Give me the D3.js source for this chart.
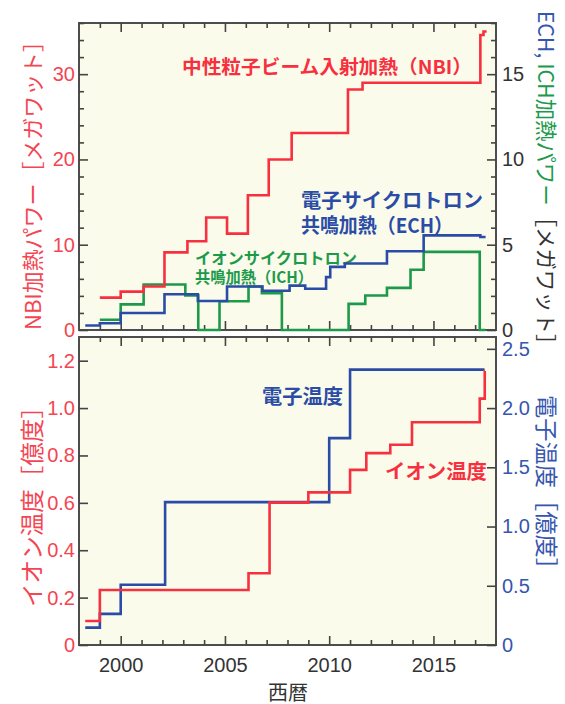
<!DOCTYPE html>
<html><head><meta charset="utf-8">
<script src="https://cdn.jsdelivr.net/npm/d3@7"></script>
<style>
body{margin:0;background:#fff}
svg{display:block}
</style>
</head><body>
<svg id="c" width="565" height="704"></svg>
<script>
// ---- data (step charts: value holds from each year until the next) ----
const nbiYears = [1999.0, 2000.0, 2001.1, 2002.1, 2003.2, 2004.1, 2005.1, 2006.1, 2007.1, 2008.2, 2010.9, 2011.6, 2017.25, 2017.4, 2017.55];
const nbiPower = [3.8, 4.5, 5.1, 9.1, 10.4, 13.2, 11.3, 15.8, 20.0, 23.1, 28.2, 29.0, 34.6, 35.0, 35.0];

const echYears = [1998.3, 1999.0, 2000.0, 2002.1, 2003.7, 2005.1, 2006.8, 2008.1, 2008.85, 2009.85, 2010.05, 2010.75, 2012.77, 2014.53, 2017.25, 2017.5];
const echPower = [0.26, 0.4, 1.0, 2.1, 1.7, 2.55, 2.3, 2.6, 2.42, 3.1, 3.7, 3.9, 4.62, 5.55, 5.45, 5.45];

const ichYears = [1999.0, 2000.0, 2001.1, 2003.1, 2003.72, 2004.74, 2006.13, 2006.77, 2007.73, 2010.93, 2011.73, 2012.77, 2013.9, 2014.53, 2017.22, 2017.5];
const ichPower = [0.6, 1.5, 2.67, 2.02, 0, 1.69, 2.55, 2.16, 0, 1.53, 2.02, 2.47, 3.53, 4.58, 0, 0];

const ionYears = [1998.3, 1999.0, 2006.13, 2007.14, 2009.0, 2011.0, 2011.78, 2012.93, 2013.97, 2017.22, 2017.46, 2017.47];
const ionTemp  = [0.101, 0.232, 0.303, 0.601, 0.644, 0.739, 0.81, 0.845, 0.94, 1.04, 1.156, 1.156];

const eleYears = [1998.3, 1999.0, 2000.0, 2002.13, 2010.0, 2011.0, 2017.45];
const eleTemp  = [0.147, 0.263, 0.508, 1.206, 1.746, 2.325, 2.325];

const xTickYears = [2000, 2005, 2010, 2015];
const nbiTicks = [0, 10, 20, 30];
const rfTicks = [0, 5, 10, 15];
const ionTicks = [0, 0.2, 0.4, 0.6, 0.8, 1.0, 1.2];
const eleTicks = [0, 0.5, 1.0, 1.5, 2.0, 2.5];

// ---- styling ----
const RED = "#f7303f", BLUE = "#2b4ca6", GREEN = "#1c9a4a", DARK = "#333";
const RED_T = "#f44552", BLUE_T = "#3656ae";
const LAT = '"Liberation Sans", Arial, sans-serif';
const JP = '"Noto Sans CJK JP", "Noto Sans", sans-serif';
const BG = "#fafbeb", FRAME = "#4d4d4d";

const svg = d3.select("#c");
const x = d3.scaleLinear().domain([1998, 2018]).range([79, 496]);
const yTopL = d3.scaleLinear().domain([0, 36]).range([330, 23]);
const yTopR = d3.scaleLinear().domain([0, 18]).range([330, 23]);
const yBotL = d3.scaleLinear().domain([0, 1.3]).range([645, 337]);
const yBotR = d3.scaleLinear().domain([0, 2.6]).range([645, 337]);

const allYears = d3.range(1999, 2018);
const minorYears = allYears.filter(d => d % 5 !== 0);
const majorYears = allYears.filter(d => d % 5 === 0);

function panel(yScale) {
  const [y1, y0] = yScale.range();
  svg.append("rect").attr("x", x.range()[0]).attr("y", y0)
    .attr("width", x.range()[1] - x.range()[0]).attr("height", y1 - y0)
    .attr("fill", BG);
}
function frame(yScale) {
  const [y1, y0] = yScale.range();
  svg.append("rect").attr("x", x.range()[0]).attr("y", y0)
    .attr("width", x.range()[1] - x.range()[0]).attr("height", y1 - y0)
    .attr("fill", "none").attr("stroke", FRAME).attr("stroke-width", 2);
}
function drawAxis(axis, tx, ty) {
  const g = svg.append("g").attr("transform", `translate(${tx},${ty})`).call(axis);
  g.select(".domain").remove();
  g.selectAll(".tick line").attr("stroke", "#444").attr("stroke-width", 1.6);
  return g;
}
function noLabels(g) { g.selectAll("text").remove(); return g; }

function yearTicks(yScale, withLabels) {
  const [y1, y0] = yScale.range();
  noLabels(drawAxis(d3.axisTop(x).tickValues(minorYears).tickSize(-5), 0, y0));
  noLabels(drawAxis(d3.axisTop(x).tickValues(majorYears).tickSize(-9), 0, y0));
  noLabels(drawAxis(d3.axisBottom(x).tickValues(minorYears).tickSize(-5), 0, y1));
  const g = drawAxis(d3.axisBottom(x).tickValues(majorYears).tickSize(-9)
    .tickFormat(d3.format("d")), 0, y1);
  if (!withLabels) noLabels(g);
  else {
    g.selectAll(".tick").filter(d => !xTickYears.includes(d)).select("text").remove();
    g.selectAll("text").attr("font-family", LAT).attr("font-size", 20).attr("fill", DARK)
      .attr("y", 0).attr("dy", "0").attr("dominant-baseline", "central")
      .attr("transform", "translate(0,20)");
  }
}

function step(xs, ys, yScale, color) {
  const pts = xs.map((d, i) => [d, ys[i]]);
  const line = d3.line().x(d => x(d[0])).y(d => yScale(d[1])).curve(d3.curveStepAfter);
  svg.append("path").datum(pts).attr("d", line).attr("fill", "none")
    .attr("stroke", color).attr("stroke-width", 2.6).attr("stroke-linejoin", "miter");
}

function fitText(sel, target) {
  const len = sel.node().getComputedTextLength();
  const fs = parseFloat(sel.attr("font-size"));
  sel.attr("font-size", fs * target / len);
}

// ---- panels ----
panel(yTopL); panel(yBotL);

// annotations (under lines)
function label(txt, x0, yc, size, color, width) {
  return svg.append("text").attr("x", x0).attr("y", yc).attr("dominant-baseline", "central")
    .attr("font-family", JP).attr("font-weight", 700).attr("font-size", size)
    .attr("fill", color).attr("textLength", width).attr("lengthAdjust", "spacingAndGlyphs").text(txt);
}
label("中性粒子ビーム入射加熱（NBI）", 182, 65, 19, RED, 290);
label("電子サイクロトロン", 301, 199, 20, BLUE, 182);
label("共鳴加熱（ECH）", 301, 224, 20, BLUE, 152);
label("イオンサイクロトロン", 195, 257, 16, GREEN, 162);
label("共鳴加熱（ICH）", 195, 276, 16, GREEN, 118);
label("電子温度", 262, 395, 20, BLUE, 81);
label("イオン温度", 385, 470, 20, RED, 102);

frame(yTopL); frame(yBotL);

// ---- ticks ----
yearTicks(yTopL, false);
yearTicks(yBotL, true);

// top-left NBI axis
noLabels(drawAxis(d3.axisLeft(yTopL).tickValues(d3.range(0, 37, 2).filter(d => d % 10)).tickSize(-5), 79, 0));
drawAxis(d3.axisLeft(yTopL).tickValues(nbiTicks).tickSize(-9).tickPadding(4), 79, 0)
  .selectAll("text").attr("font-family", LAT).attr("font-size", 20).attr("fill", RED_T);
// top-right ECH/ICH axis
noLabels(drawAxis(d3.axisRight(yTopR).tickValues(d3.range(0, 19, 1).filter(d => d % 5)).tickSize(-5), 496, 0));
drawAxis(d3.axisRight(yTopR).tickValues(rfTicks).tickSize(-9).tickPadding(6), 496, 0)
  .selectAll("text").attr("font-family", LAT).attr("font-size", 20).attr("fill", DARK);
// bottom-left ion temp
drawAxis(d3.axisLeft(yBotL).tickValues(ionTicks).tickSize(-9).tickPadding(4)
  .tickFormat(d => d === 0 ? "0" : d3.format(".1f")(d)), 79, 0)
  .selectAll("text").attr("font-family", LAT).attr("font-size", 20).attr("fill", RED_T);
// bottom-right electron temp
drawAxis(d3.axisRight(yBotR).tickValues(eleTicks).tickSize(-9).tickPadding(6)
  .tickFormat(d => d === 0 ? "0" : d3.format(".1f")(d)), 496, 0)
  .selectAll("text").attr("font-family", LAT).attr("font-size", 20).attr("fill", BLUE_T);

// ---- lines ----
step(ichYears, ichPower, yTopR, GREEN);
step(echYears, echPower, yTopR, BLUE);
step(nbiYears, nbiPower, yTopL, RED);
step(eleYears, eleTemp, yBotR, BLUE);
step(ionYears, ionTemp, yBotL, RED);

// ---- axis titles ----
function vtitle(cx, cy, rot, size, parts, target) {
  const t = svg.append("text").attr("transform", `translate(${cx},${cy}) rotate(${rot})`)
    .attr("text-anchor", "middle").attr("dominant-baseline", "central")
    .attr("font-family", JP).attr("font-size", size);
  parts.forEach(([s, c]) => t.append("tspan").attr("fill", c).text(s));
  fitText(t, target);
  return t;
}
vtitle(31, 180, -90, 20, [["NBI加熱パワー［メガワット］", RED_T]], 300);
vtitle(31, 501, -90, 20, [["イオン温度［億度］", RED_T]], 212);
vtitle(548, 183, 90, 20, [["ECH, ", BLUE_T], ["ICH加熱パワー", GREEN], ["［メガワット］", DARK]], 345);
vtitle(548, 488, 90, 20, [["電子温度［億度］", BLUE_T]], 186);

svg.append("text").attr("x", 288).attr("y", 691).attr("text-anchor", "middle")
  .attr("dominant-baseline", "central").attr("font-family", JP).attr("font-size", 20)
  .attr("fill", DARK).text("西暦");
</script>
</body></html>
